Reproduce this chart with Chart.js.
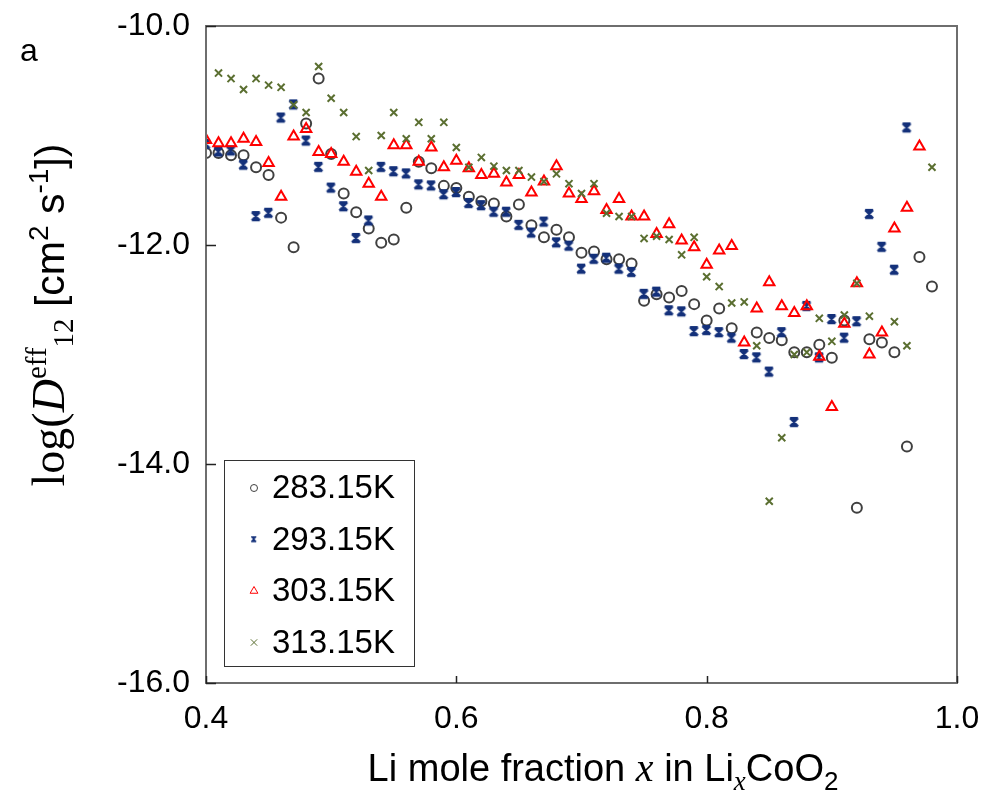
<!DOCTYPE html>
<html>
<head>
<meta charset="utf-8">
<script src="https://cdn.jsdelivr.net/npm/chart.js@4.4.1/dist/chart.umd.min.js"></script>
<style>
  html, body { margin: 0; padding: 0; background: #fff; }
  canvas { display: block; }
</style>
</head>
<body>
<canvas id="grafico" width="986" height="792"></canvas>
<script>
// fracción molar x (eje horizontal)
const xValues = [0.40, 0.41, 0.42, 0.43, 0.44, 0.45, 0.46, 0.47, 0.48, 0.49,
                 0.50, 0.51, 0.52, 0.53, 0.54, 0.55, 0.56, 0.57, 0.58, 0.59,
                 0.60, 0.61, 0.62, 0.63, 0.64, 0.65, 0.66, 0.67, 0.68, 0.69,
                 0.70, 0.71, 0.72, 0.73, 0.74, 0.75, 0.76, 0.77, 0.78, 0.79,
                 0.80, 0.81, 0.82, 0.83, 0.84, 0.85, 0.86, 0.87, 0.88, 0.89,
                 0.90, 0.91, 0.92, 0.93, 0.94, 0.95, 0.96, 0.97, 0.98];

const etiquetas = ['283.15K', '293.15K', '303.15K', '313.15K'];

const serie283 = [-11.16, -11.16, -11.18, -11.18, -11.29, -11.36, -11.75, -12.02, -10.89, -10.48,
                  -11.17, -11.53, -11.70, -11.85, -11.98, -11.95, -11.66, -11.24, -11.30, -11.46,
                  -11.48, -11.56, -11.60, -11.62, -11.74, -11.63, -11.82, -11.93, -11.86, -11.93,
                  -12.07, -12.06, -12.13, -12.13, -12.17, -12.51, -12.45, -12.48, -12.42, -12.54,
                  -12.69, -12.58, -12.76, null, -12.80, -12.85, -12.87, -12.98, -12.98, -12.91,
                  -13.03, -12.69, -14.40, -12.86, -12.89, -12.98, -13.84, -12.11, -12.38];

const serie293 = [-11.08, -11.15, -11.14, -11.27, -11.74, -11.71, -10.84, -10.72, -11.05, -11.29,
                  -11.48, -11.65, -11.94, -11.78, -11.29, -11.33, -11.35, -11.45, -11.46, -11.54,
                  -11.52, -11.62, -11.64, -11.70, -11.70, -11.82, -11.89, -11.79, -11.98, -12.01,
                  -12.22, -12.13, -12.12, -12.22, -12.25, -12.45, -12.43, -12.60, -12.61, -12.79,
                  -12.78, -12.80, -12.85, -13.00, -13.03, -13.16, -12.80, -13.62, -12.56, -13.03,
                  -12.68, -12.85, -12.70, -11.72, -12.02, -12.23, -10.93, null, null];

const serie303 = [-11.04, -11.07, -11.07, -11.03, -11.06, -11.25, -11.56, -11.01, -10.94, -11.15,
                  -11.17, -11.24, -11.33, -11.44, -11.56, -11.09, -11.09, -11.24, -11.11, -11.29,
                  -11.23, -11.30, -11.36, -11.35, -11.43, -11.36, -11.52, -11.42, -11.28, -11.53,
                  -11.58, -11.51, -11.68, -11.58, -11.74, -11.74, -11.90, -11.81, -11.96, -12.02,
                  -12.18, -12.05, -12.01, -12.89, -12.58, -12.34, -12.56, -12.62, -12.56, -13.02,
                  -13.48, -12.72, -12.35, -13.00, -12.80, -11.85, -11.66, -11.10, null];

const serie313 = [null, -10.43, -10.48, -10.58, -10.48, -10.54, -10.56, -10.72, -10.79, -10.37,
                  -10.66, -10.79, -11.01, -11.32, -11.00, -10.79, -11.03, -10.88, -11.03, -10.88,
                  -11.11, -11.29, -11.20, -11.28, -11.32, -11.32, -11.38, -11.42, -11.35, -11.44,
                  -11.53, -11.44, -11.71, -11.74, -11.74, -11.94, -11.92, -11.95, -12.09, -11.93,
                  -12.29, -12.38, -12.53, -12.52, -12.92, -14.34, -13.76, -13.00, -12.98, -12.67,
                  -12.88, -12.64, -12.35, -12.65, null, -12.70, -12.92, null, -11.29];

const ticksX = [0.4, 0.6, 0.8, 1.0];
const ticksY = [-16, -14, -12, -10];

const SANS = "'Liberation Sans', Arial, sans-serif";
const SERIF = "'Liberation Serif', 'Times New Roman', serif";

const colores = ['#404040', '#13307a', '#ff0000', '#5b6f31'];

// marcador estrella (x con barra vertical) de Excel
function crearEstrella(tam, grosor, color) {
    const c = document.createElement('canvas');
    const m = grosor;
    c.width = Math.ceil(tam + 2 * m);
    c.height = Math.ceil(tam + 2 * m);
    const g = c.getContext('2d');
    g.strokeStyle = color;
    g.lineWidth = grosor;
    g.lineCap = 'butt';
    g.beginPath();
    g.moveTo(m, m); g.lineTo(m + tam, m + tam);
    g.moveTo(m + tam, m); g.lineTo(m, m + tam);
    g.moveTo(m + tam / 2, m); g.lineTo(m + tam / 2, m + tam);
    g.moveTo(m, m); g.lineTo(m + tam, m);
    g.moveTo(m, m + tam); g.lineTo(m + tam, m + tam);
    g.stroke();
    return c;
}

const estrellaGrande = crearEstrella(8, 2.2, colores[1]);
const estrellaChica = crearEstrella(5, 1.2, colores[1]);

function puntos(serie) {
    const datos = [];
    serie.forEach((y, i) => {
        if (y !== null) datos.push({ x: xValues[i], y: y });
    });
    return datos;
}

// dibuja texto con partes en distinta fuente (sub/superíndices)
function dibujarPartes(ctx, partes, cx, baseY) {
    let total = 0;
    partes.forEach(p => { ctx.font = p.f; p.w = ctx.measureText(p.t).width; total += p.w; });
    let x = cx - total / 2;
    ctx.textAlign = 'left';
    ctx.textBaseline = 'alphabetic';
    partes.forEach(p => {
        ctx.font = p.f;
        ctx.fillText(p.t, x, baseY + (p.dy || 0));
        x += p.w;
    });
}

const pluginMarco = {
    id: 'marco',
    afterDraw(chart) {
        const ctx = chart.ctx;
        const a = chart.chartArea;
        const sx = chart.scales.x, sy = chart.scales.y;
        ctx.save();
        ctx.strokeStyle = '#6e6e6e';
        ctx.lineWidth = 2;
        ctx.strokeRect(a.left, a.top, a.right - a.left, a.bottom - a.top);
        // marcas hacia dentro
        ctx.strokeStyle = '#222';
        ctx.lineWidth = 1.5;
        ctx.beginPath();
        ticksX.forEach(v => {
            const px = Math.round(sx.getPixelForValue(v)) + 0.5;
            ctx.moveTo(px, a.bottom); ctx.lineTo(px, a.bottom - 7);
        });
        ticksY.forEach(v => {
            const py = Math.round(sy.getPixelForValue(v)) + 0.5;
            ctx.moveTo(a.left, py); ctx.lineTo(a.left + 10, py);
        });
        ctx.stroke();

        ctx.fillStyle = '#000';
        // letra del panel
        ctx.font = '32px ' + SANS;
        ctx.textAlign = 'left';
        ctx.textBaseline = 'alphabetic';
        ctx.fillText('a', 20, 61);

        // titulo eje x
        dibujarPartes(ctx, [
            { t: 'Li mole fraction ', f: '38px ' + SANS },
            { t: 'x', f: 'italic 40px ' + SERIF },
            { t: ' in Li', f: '38px ' + SANS },
            { t: 'x', f: 'italic 27px ' + SERIF, dy: 9 },
            { t: 'CoO', f: '38px ' + SANS },
            { t: '2', f: '26px ' + SANS, dy: 9 }
        ], 603, 781);

        // titulo eje y (rotado)
        ctx.save();
        ctx.translate(64, 315);
        ctx.rotate(-Math.PI / 2);
        dibujarPartes(ctx, [
            { t: 'log(', f: '46px ' + SERIF },
            { t: 'D', f: 'italic 46px ' + SERIF },
            { t: 'eff', f: '29px ' + SERIF, dy: -18 },
            { t: '12', f: '29px ' + SERIF, dy: 9 },
            { t: ' [cm', f: '41px ' + SANS },
            { t: '2', f: '28px ' + SANS, dy: -16 },
            { t: ' s', f: '41px ' + SANS },
            { t: '-1', f: '28px ' + SANS, dy: -16 },
            { t: '])', f: '41px ' + SANS }
        ], 0, 0);
        ctx.restore();

        // leyenda
        const lx = 224, ly = 460, lw = 190, lh = 206;
        ctx.fillStyle = '#fff';
        ctx.fillRect(lx, ly, lw, lh);
        ctx.strokeStyle = '#333';
        ctx.lineWidth = 1;
        ctx.strokeRect(lx + 0.5, ly + 0.5, lw, lh);
        const estilos = [
            { pointStyle: 'circle', radius: 3.5, borderWidth: 1.6 },
            null,
            { pointStyle: 'triangle', radius: 4.5, borderWidth: 1.6 },
            { pointStyle: 'crossRot', radius: 4.5, borderWidth: 1.2 }
        ];
        etiquetas.forEach((et, i) => {
            const cy = 488 + i * 51.5;
            ctx.strokeStyle = colores[i];
            ctx.fillStyle = 'rgba(0,0,0,0)';
            if (i === 1) {
                ctx.drawImage(estrellaChica, 254 - estrellaChica.width / 2, cy - estrellaChica.height / 2);
            } else {
                Chart.helpers.drawPoint(ctx, estilos[i], 254, cy);
            }
            ctx.fillStyle = '#000';
            ctx.font = '33px ' + SANS;
            ctx.textAlign = 'left';
            ctx.textBaseline = 'middle';
            ctx.fillText(et, 272, cy + 1);
        });
        ctx.restore();
    }
};

new Chart(document.getElementById('grafico'), {
    type: 'scatter',
    data: {
        datasets: [
            {
                label: etiquetas[0], data: puntos(serie283), order: 3,
                pointStyle: 'circle', pointRadius: 5, pointBorderWidth: 2,
                borderColor: colores[0], backgroundColor: 'rgba(0,0,0,0)'
            },
            {
                label: etiquetas[1], data: puntos(serie293), order: 2,
                pointStyle: estrellaGrande, pointRadius: 5,
                borderColor: colores[1], backgroundColor: colores[1]
            },
            {
                label: etiquetas[2], data: puntos(serie303), order: 1,
                pointStyle: 'triangle', pointRadius: 6, pointBorderWidth: 2,
                borderColor: colores[2], backgroundColor: 'rgba(0,0,0,0)'
            },
            {
                label: etiquetas[3], data: puntos(serie313), order: 0,
                pointStyle: 'crossRot', pointRadius: 5, pointBorderWidth: 2,
                borderColor: colores[3], backgroundColor: colores[3]
            }
        ]
    },
    options: {
        responsive: false,
        animation: false,
        devicePixelRatio: 1,
        layout: { padding: { top: 26, right: 29, left: 0, bottom: 0 } },
        plugins: {
            legend: { display: false },
            tooltip: { enabled: false }
        },
        scales: {
            x: {
                type: 'linear', min: 0.4, max: 1.0,
                grid: { display: false, drawTicks: false },
                border: { display: false },
                afterBuildTicks: s => { s.ticks = ticksX.map(v => ({ value: v })); },
                afterFit: s => { s.height = 109; s.paddingLeft = 0; s.paddingRight = 0; },
                ticks: {
                    padding: 17, color: '#000',
                    font: { family: SANS, size: 32 },
                    callback: v => v.toFixed(1)
                }
            },
            y: {
                min: -16, max: -10,
                grid: { display: false, drawTicks: false },
                border: { display: false },
                afterBuildTicks: s => { s.ticks = ticksY.map(v => ({ value: v })); },
                afterFit: s => { s.width = 206; s.paddingTop = 0; s.paddingBottom = 0; },
                ticks: {
                    padding: 16, color: '#000',
                    font: { family: SANS, size: 32 },
                    callback: v => v.toFixed(1)
                }
            }
        }
    },
    plugins: [pluginMarco]
});
</script>
</body>
</html>
